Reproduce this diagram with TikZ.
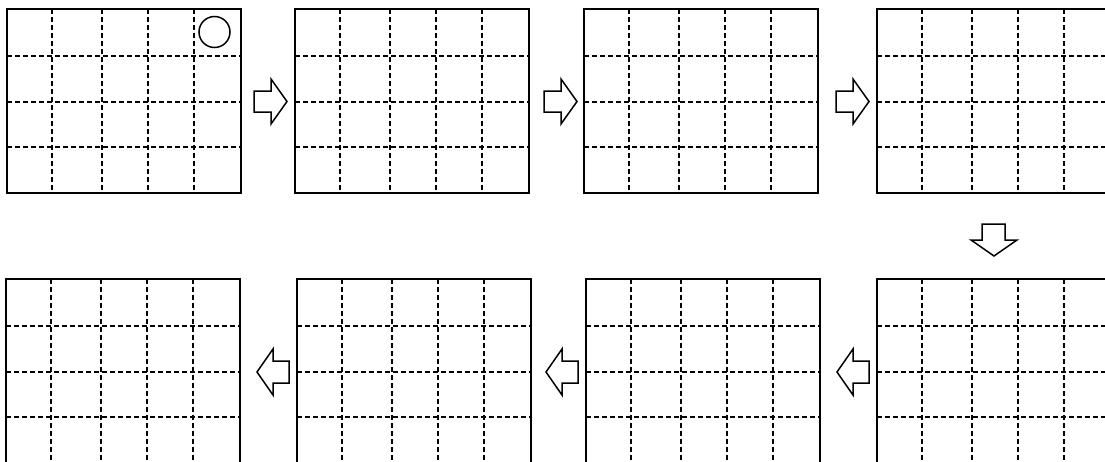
\documentclass[tikz,border=0pt]{standalone}
\usetikzlibrary{calc}
\tikzset{
  panel/.style={draw=black, line width=1.6pt, rectangle, inner sep=0pt, outer sep=0pt,
    minimum width=234pt, minimum height=184pt, anchor=north west, fill=white},
  gridline/.style={draw=black, line width=1.1pt, dash pattern=on 5pt off 3pt},
  blockarrow/.style={draw=black, line width=1.5pt, line join=miter, fill=white},
  marker/.style={draw=black, line width=1.5pt}
}
\newcommand{\gridpanel}[3]{%
  \node[panel] (#1) at (#2,#3) {};
  \foreach \dx in {45,95,141,187}
    \draw[gridline] ($(#1.north west)+(\dx,0)$) -- ($(#1.south west)+(\dx,0)$);
  \foreach \dy in {47,93,138}
    \draw[gridline] ($(#1.north west)+(0,\dy)$) -- ($(#1.north east)+(0,\dy)$);
  \draw[line width=1.6pt] (#1.north west) rectangle (#1.south east);
}
\newcommand{\rightblock}[3]{% name, shaft left x, center y
  \coordinate (#1) at (#2,#3);
  \draw[blockarrow] ($(#1)+(0,-10.5)$) -- ++(17,0) -- ++(0,-12) -- ($(#1)+(33,0)$)
    -- ($(#1)+(17,22.5)$) -- ++(0,-12) -- ($(#1)+(0,10.5)$) -- cycle;
}
\newcommand{\leftblock}[3]{% name, tip x, center y
  \coordinate (#1) at (#2,#3);
  \draw[blockarrow] (#1) -- ($(#1)+(16,-23)$) -- ++(0,12) -- ($(#1)+(32,-11)$)
    -- ($(#1)+(32,11)$) -- ($(#1)+(16,11)$) -- ($(#1)+(16,23)$) -- cycle;
}
\begin{document}
\begin{tikzpicture}[x=1pt,y=-1pt]
  \useasboundingbox (0,0) rectangle (1105,461);
  % top row
  \gridpanel{p1}{7}{9}
  \gridpanel{p2}{295}{9}
  \gridpanel{p3}{584}{9}
  \gridpanel{p4}{877}{9}
  % bottom row
  \gridpanel{p5}{6}{279}
  \gridpanel{p6}{297}{279}
  \gridpanel{p7}{586}{279}
  \gridpanel{p8}{877}{279}
  % circle marker
  \node[marker, circle, minimum size=31pt, inner sep=0pt] (m) at (214.5,32) {};
  % arrows top row
  \rightblock{a1}{254}{101.5}
  \rightblock{a2}{544}{101.5}
  \rightblock{a3}{836}{101.5}
  % down arrow
  \coordinate (a4) at (994,256);
  \draw[blockarrow] (a4) -- ($(a4)+(-23,-16)$) -- ++(11,0) -- ($(a4)+(-12,-32)$)
    -- ($(a4)+(11,-32)$) -- ($(a4)+(11,-16)$) -- ($(a4)+(23,-16)$) -- cycle;
  % arrows bottom row
  \leftblock{a5}{837}{372}
  \leftblock{a6}{546}{372}
  \leftblock{a7}{257}{372}
\end{tikzpicture}
\end{document}
